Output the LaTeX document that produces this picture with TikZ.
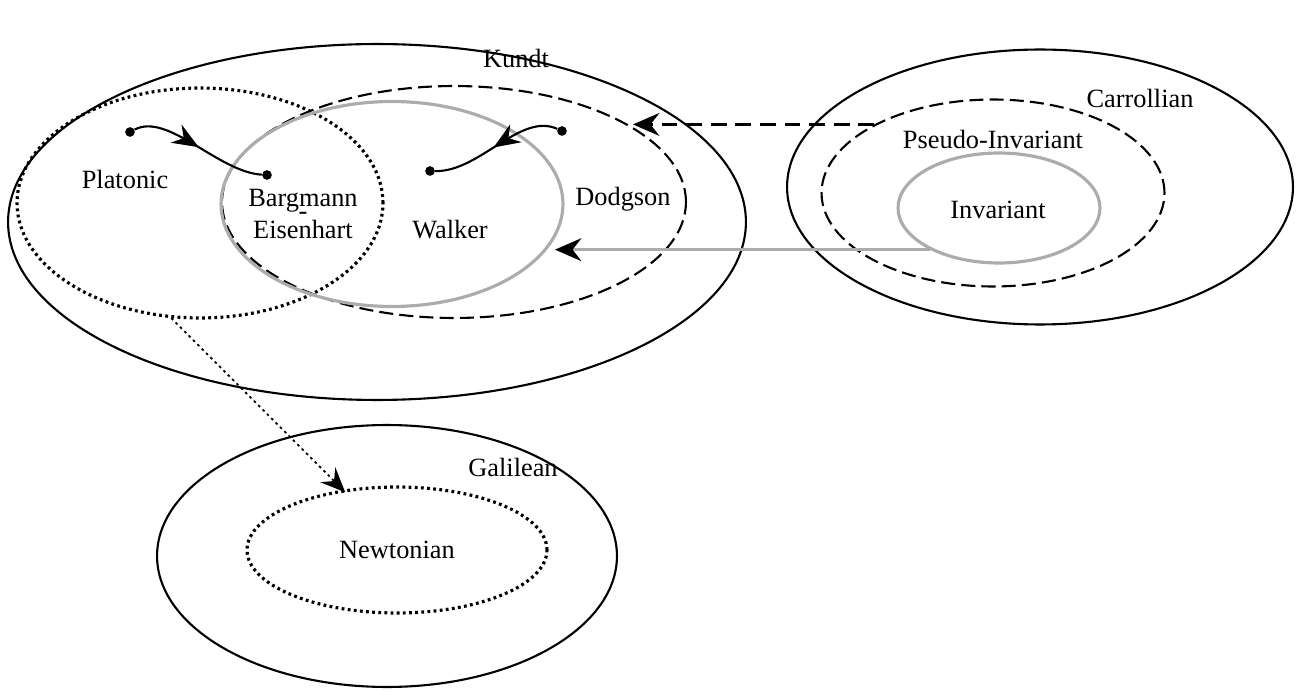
\documentclass[tikz,border=0pt]{standalone}
\usepackage{fontspec}
\setmainfont{Liberation Serif}
\usetikzlibrary{shapes.geometric,arrows.meta,decorations.markings}

\tikzset{
  region/.style={ellipse, draw, line width=1.2pt, inner sep=0pt},
  dashregion/.style={region, dash pattern=on 8pt off 3.5pt},
  dotregion/.style={region, line width=1.8pt, dash pattern=on 1.6pt off 1.9pt},
  grayregion/.style={region, draw=gray!65, line width=1.8pt},
  lbl/.style={font=\fontsize{15}{18.7}\selectfont, inner sep=0pt},
  dot/.style={circle, fill, inner sep=0pt, minimum size=5.5pt},
  midtip/.style={postaction={decorate}, decoration={markings,
      mark=at position #1 with {\arrow{Stealth[length=15pt, width=12pt, inset=5pt]}}}},
  curvy/.style={line width=1.2pt},
  dasharrow/.style={line width=1.7pt, dash pattern=on 9pt off 5pt, -{Stealth[length=15pt, width=13pt, inset=5pt]}},
  grayarrow/.style={line width=1.8pt, draw=gray!65, -{Stealth[length=15pt, width=13pt, inset=5pt, color=black]}},
  dotarrow/.style={line width=1pt, dash pattern=on 1.5pt off 2pt, -{Stealth[length=14pt, width=12pt, inset=5pt, sep=-2pt]}},
}

\begin{document}
\begin{tikzpicture}[x=0.02cm, y=-0.02cm]
  \useasboundingbox (0,0) rectangle (1301,692);

  % regions
  \node[region, minimum width=14.76cm, minimum height=7.12cm] (kundt) at (377,222) {};
  \node[dotregion, minimum width=7.32cm, minimum height=4.6cm] (platonic) at (200,203) {};
  \node[dashregion, minimum width=9.28cm, minimum height=4.64cm] (dodgson) at (454,202) {};
  \node[grayregion, minimum width=6.84cm, minimum height=4.1cm] (walker) at (392,204) {};

  \node[region, minimum width=10.12cm, minimum height=5.5cm] (carroll) at (1040,187) {};
  \node[dashregion, minimum width=6.86cm, minimum height=3.74cm] (pseudo) at (993,193) {};
  \node[grayregion, minimum width=4.04cm, minimum height=2.2cm] (invariant) at (999,208) {};

  \node[region, minimum width=9.2cm, minimum height=5.24cm] (galilean) at (387,556) {};
  \node[dotregion, minimum width=6cm, minimum height=2.52cm] (newtonian) at (397,550) {};

  % labels
  \node[lbl] (kundtlbl) at (516,58) {Kundt};
  \node[lbl] (platoniclbl) at (125,179) {Platonic};
  \node[lbl, align=center] (bargmann) at (303,214) {Bargmann\\[-10.8pt]-\\[-7.9pt]Eisenhart};
  \node[lbl] (walkerlbl) at (450,230) {Walker};
  \node[lbl] (dodgsonlbl) at (623,199) {Dodgson};
  \node[lbl] (carrolllbl) at (1140,98) {Carrollian};
  \node[lbl] (pseudolbl) at (993,139) {Pseudo-Invariant};
  \node[lbl] (invariantlbl) at (998,210) {Invariant};
  \node[lbl] (galileanlbl) at (513,467) {Galilean};
  \node[lbl] (newtonianlbl) at (397,550) {Newtonian};

  % flows
  \node[dot] (p1) at (130,132) {};
  \node[dot] (p2) at (267,175) {};
  \node[dot] (p3) at (562,131) {};
  \node[dot] (p4) at (430,171) {};
  \draw[curvy, midtip=0.5] (p1) .. controls (168,112) and (218,172) .. (p2);
  \draw[curvy, midtip=0.52] (p3) .. controls (520,112) and (480,172) .. (p4);

  \coordinate (dend) at (633,125);
  \draw[dasharrow] (pseudo.150) -- (pseudo.150 -| dend);

  \coordinate (gend) at (555,0);
  \draw[grayarrow] (invariant.211) -- (invariant.211 -| gend);

  \draw[dotarrow] (platonic.256) -- (newtonian.132);
\end{tikzpicture}
\end{document}
